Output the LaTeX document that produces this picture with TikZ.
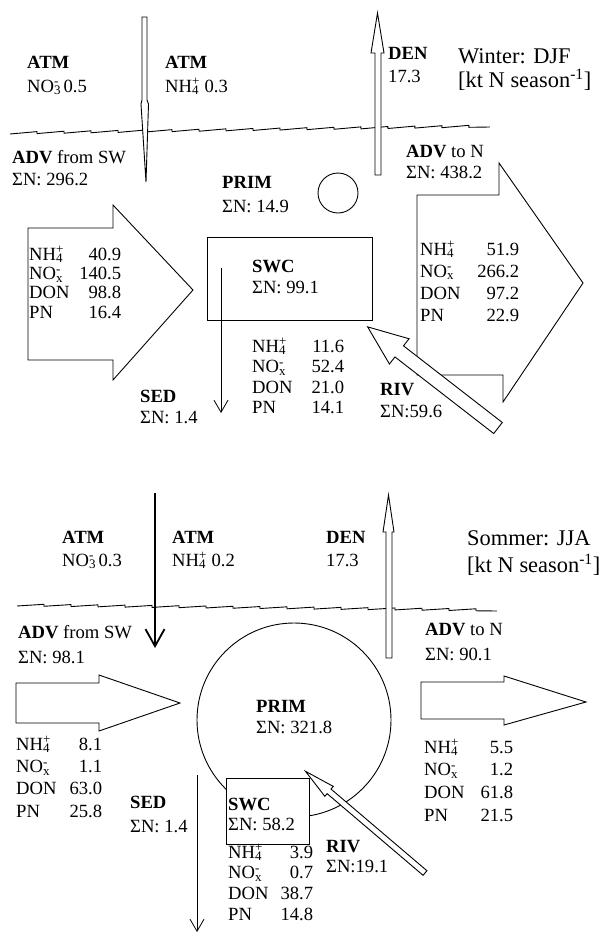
\documentclass[tikz,border=0pt]{standalone}
\usepackage{fontspec}
\setmainfont{Liberation Serif}
\usetikzlibrary{arrows.meta,decorations.pathmorphing}
\newcommand\NHfour{NH\rlap{\textsubscript{4}}\textsuperscript{+}}
\newcommand\NOx{NO\rlap{\textsubscript{x}}\textsuperscript{-}}
\newcommand\NOthree{NO\rlap{\textsubscript{3}}\textsuperscript{-}}
\tikzset{
  lbl/.style={anchor=base west, inner sep=0pt, align=left, yshift=-#1bp, font=\fontsize{18.7}{#1}\selectfont},
  lbl/.default=23,
  vals/.style 2 args={anchor=base west, inner sep=0pt, align=left, text width=#1, font=\fontsize{18.7}{#2}\selectfont},
  season/.style={anchor=base west, inner sep=0pt, align=left, yshift=-#1bp, font=\fontsize{22.5}{#1}\selectfont},
  season/.default=25,
  flux/.style={draw, line width=0.9bp, fill=white},
  surf/.style={line width=0.9bp, decorate, decoration={saw, segment length=27bp, amplitude=2bp}},
  pool/.style={draw, line width=0.9bp},
  sink/.style={line width=0.8bp, -{Straight Barb[length=12bp, width=14bp]}}}

\begin{document}
\begin{tikzpicture}[x=1bp, y=-1bp]
  \useasboundingbox (0,0) rectangle (601,936);
  % winter
  \draw[surf] (10,134) -- (490,127);
  \draw[pool] (338,193) circle[radius=20bp];
  \draw[pool] (207,237) rectangle (372,320);
  \draw[flux] (142,17) -- (147,17) -- (147,100) -- (148.5,104) -- (146,182) -- (141,104) -- (142,100) -- cycle;
  \draw[flux] (375,175) -- (375,53) -- (371,53) -- (377.5,13) -- (384,53) -- (381,53) -- (381,175) -- cycle;
  \draw[flux] (28,228) -- (113,228) -- (113,205) -- (193,290) -- (113,380) -- (113,360) -- (28,360) -- cycle;
  \draw[flux] (417,195) -- (499,195) -- (499,163) -- (583,283) -- (503,402) -- (503,375) -- (417,375) -- cycle;
  \begin{scope}[shift={(498,428)}, rotate=142.2]
    \draw[flux] (0,-7) -- (125,-7) -- (125,-16) -- (165,0) -- (125,16) -- (125,7) -- (0,7) -- cycle;
  \end{scope}
  \coordinate (sedend) at (221,413);
  \draw[sink] (221,268) -- (sedend);
  \node[lbl=24] (atmno) at (27,68) {\textbf{ATM}\\\NOthree\ 0.5};
  \node[lbl=24] (atmnh) at (165,68) {\textbf{ATM}\\\NHfour\ 0.3};
  \node[lbl] (den) at (388,59) {\textbf{DEN}\\17.3};
  \node[season=24] (winter) at (458,63) {Winter: DJF\\{[}kt N season\textsuperscript{-1}]};
  \node[lbl=22] (advin) at (12,163) {\textbf{ADV} from SW\\ΣN: 296.2};
  \node[lbl=24] (prim) at (222,188) {\textbf{PRIM}\\ΣN: 14.9};
  \node[lbl=21] (advout) at (406,157) {\textbf{ADV} to N\\ΣN: 438.2};
  \node[lbl=21] (swc) at (252,272) {\textbf{SWC}\\ΣN: 99.1};
  \node[lbl=21] (sed) at (140,402) {\textbf{SED}\\ΣN: 1.4};
  \node[lbl=22] (riv) at (380,395) {\textbf{RIV}\\ΣN:59.6};
  \node[vals={92bp}{19.5}] (advinv) at (29,260) {\NHfour\hfill 40.9\\\NOx\hfill 140.5\\DON\hfill 98.8\\PN\hfill 16.4};
  \node[vals={92bp}{20.7}] (swcv) at (252,352) {\NHfour\hfill 11.6\\\NOx\hfill 52.4\\DON\hfill 21.0\\PN\hfill 14.1};
  \node[vals={99bp}{22.3}] (advoutv) at (420,255) {\NHfour\hfill 51.9\\\NOx\hfill 266.2\\DON\hfill 97.2\\PN\hfill 22.9};
  % summer
  \draw[surf] (17,606) -- (497,611);
  \draw[pool] (294,720) circle[radius=97bp];
  \draw[pool, fill=white] (226,778) rectangle (309,844);
  \draw[flux] (386,658) -- (386,532) -- (383,532) -- (388.5,495) -- (394,532) -- (392,532) -- (392,658) -- cycle;
  \draw[flux] (16,683) -- (99,683) -- (99,675) -- (180,703) -- (99,731) -- (99,723) -- (16,723) -- cycle;
  \draw[flux] (421,682) -- (504,682) -- (504,676) -- (586,702) -- (504,725) -- (504,719) -- (421,719) -- cycle;
  \begin{scope}[shift={(425,873)}, rotate=139.6]
    \draw[flux] (0,-3) -- (126,-3) -- (126,-6.5) -- (157,0) -- (126,6.5) -- (126,3) -- (0,3) -- cycle;
  \end{scope}
  \coordinate (atmend) at (155,648);
  \draw[line width=1.8bp, -{Straight Barb[length=17bp, width=19bp]}] (155,493) -- (atmend);
  \coordinate (sedend2) at (197,932);
  \draw[sink] (197,775) -- (sedend2);
  \node[lbl] (atmno2) at (62,543) {\textbf{ATM}\\\NOthree\ 0.3};
  \node[lbl] (atmnh2) at (172,543) {\textbf{ATM}\\\NHfour\ 0.2};
  \node[lbl] (den2) at (326,543) {\textbf{DEN}\\17.3};
  \node[season=27] (summer) at (467,545) {Sommer: JJA\\{[}kt N season\textsuperscript{-1}]};
  \node[lbl=25] (advin2) at (18,638) {\textbf{ADV} from SW\\ΣN: 98.1};
  \node[lbl=21] (prim2) at (256,712) {\textbf{PRIM}\\ΣN: 321.8};
  \node[lbl=25] (advout2) at (425,635) {\textbf{ADV} to N\\ΣN: 90.1};
  \node[lbl=20] (swc2) at (228,810) {\textbf{SWC}\\ΣN: 58.2};
  \node[lbl=24] (sed2) at (130,808) {\textbf{SED}\\ΣN: 1.4};
  \node[lbl=20] (riv2) at (326,852) {\textbf{RIV}\\ΣN:19.1};
  \node[vals={86bp}{22.5}] (advin2v) at (16,750) {\NHfour\hfill 8.1\\\NOx\hfill 1.1\\DON\hfill 63.0\\PN\hfill 25.8};
  \node[vals={89bp}{23}] (advout2v) at (424,753) {\NHfour\hfill 5.5\\\NOx\hfill 1.2\\DON\hfill 61.8\\PN\hfill 21.5};
  \node[vals={85bp}{21}] (swc2v) at (228,858) {\NHfour\hfill 3.9\\\NOx\hfill 0.7\\DON\hfill 38.7\\PN\hfill 14.8};
\end{tikzpicture}
\end{document}
